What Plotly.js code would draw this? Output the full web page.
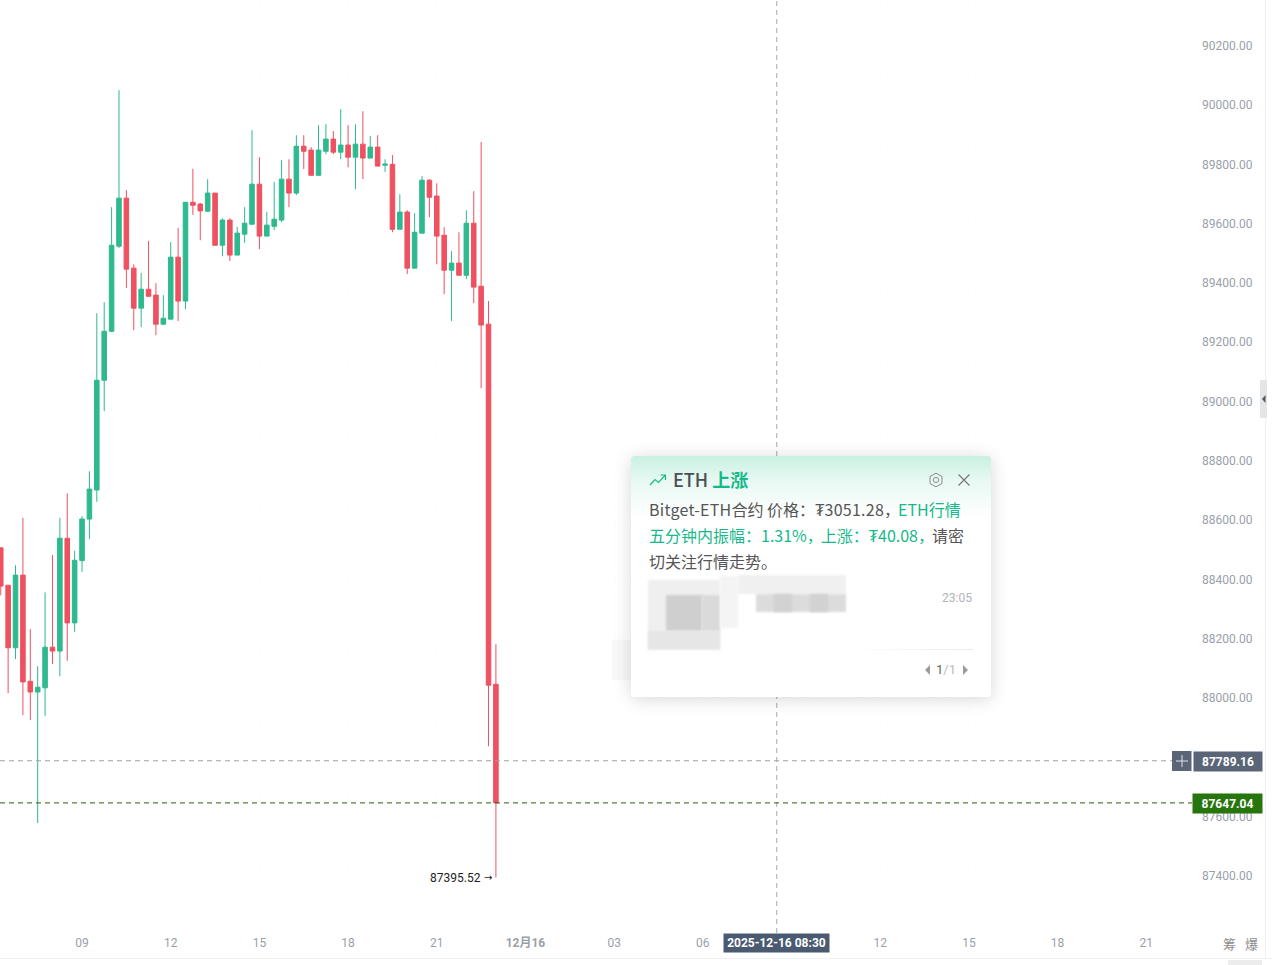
<!DOCTYPE html>
<html><head><meta charset="utf-8">
<script src="https://cdn.plot.ly/plotly-3.0.1.min.js"></script>
<style>
html,body{margin:0;padding:0;background:#fff;width:1272px;height:965px;overflow:hidden}
#chart{position:absolute;left:0;top:0;width:1272px;height:965px}
#pop{position:absolute;left:631px;top:456px;width:360px;height:241px;border-radius:4px;background:linear-gradient(180deg,#c9f1e2 0,#e9f9f3 26px,#fff 62px);box-shadow:0 2px 18px rgba(0,0,0,.16);font-family:"Noto Sans CJK SC","Noto Sans",sans-serif;color:#555;overflow:hidden}
#pop div{position:absolute;white-space:nowrap}
.g{color:#17b98a}
.m{filter:blur(1px)}
.c{margin-right:-2px}
.l{letter-spacing:.25px}
</style></head><body>
<div id="chart"></div>
<div class="m" style="position:absolute;left:612px;top:640px;width:19px;height:40px;background:#f8f8f8"></div>
<div id="pop">
 <svg style="position:absolute;left:18px;top:17px" width="18" height="14" viewBox="0 0 18 14" fill="none" stroke="#17b98a" stroke-width="1.2"><path d="M1 12 L6 6.5 L9.5 9.5 L16 2.5 M11.5 2 H16.5 V7"/></svg>
 <div style="left:42px;top:10px;font-size:18px;line-height:26px;font-weight:500;color:#4a4f57">ETH <span class="g" style="font-weight:700">上涨</span></div>
 <svg style="position:absolute;left:297px;top:16px" width="16" height="16" viewBox="0 0 16 16" fill="none" stroke="#8a8a8a" stroke-width="1"><path d="M8 1.2 L14 4.6 V11.4 L8 14.8 L2 11.4 V4.6 Z"/><circle cx="8" cy="8" r="2.6"/></svg>
 <svg style="position:absolute;left:326px;top:17px" width="14" height="14" viewBox="0 0 14 14" fill="none" stroke="#777" stroke-width="1.2"><path d="M1.5 1.5 L12.5 12.5 M12.5 1.5 L1.5 12.5"/></svg>
 <div style="left:18px;top:40px;font-size:16px;line-height:26px"><span class="l">Bitget-ETH</span>合约 价格：<span class="l">₮3051.28</span><span class="c">，</span><span class="g">ETH行情</span></div>
 <div style="left:18px;top:66px;font-size:16px;line-height:26px"><span class="g">五分钟内振幅：1.31%<span class="c">，</span>上涨：₮40.08<span class="c">，</span></span>请密</div>
 <div style="left:18px;top:92px;font-size:16px;line-height:26px">切关注行情走势。</div>
 <div class="m" style="left:17px;top:124px;width:72px;height:70px;background:#efefef"></div>
 <div class="m" style="left:35px;top:139px;width:36px;height:36px;background:#cfcfcf"></div>
 <div class="m" style="left:71px;top:139px;width:18px;height:36px;background:#dadada"></div>
 <div class="m" style="left:17px;top:175px;width:72px;height:18px;background:#e6e6e6"></div>
 <div class="m" style="left:89px;top:120px;width:18px;height:52px;background:#f4f4f4"></div>
 <div class="m" style="left:107px;top:119px;width:108px;height:19px;background:#f0f0f0"></div>
 <div class="m" style="left:125px;top:138px;width:90px;height:18px;background:#dcdcdc"></div>
 <div class="m" style="left:143px;top:138px;width:18px;height:18px;background:#d2d2d2"></div>
 <div class="m" style="left:179px;top:138px;width:18px;height:18px;background:#d2d2d2"></div>
 <div style="left:311px;top:134px;font-size:12px;line-height:16px;color:#b0b3b8;font-family:Roboto,sans-serif">23:05</div>
 <div style="left:217px;top:193px;width:125px;height:1px;background:linear-gradient(90deg,#fff,#eaeaea)"></div>
 <svg style="position:absolute;left:293px;top:208px" width="8" height="12" viewBox="0 0 8 12"><path d="M6 1 V11 L1 6 Z" fill="#9a9a9a"/></svg>
 <div style="left:305px;top:206px;font-size:13px;line-height:16px;color:#666;font-family:Roboto,sans-serif">1<span style="color:#bbb">/1</span></div>
 <svg style="position:absolute;left:330px;top:208px" width="8" height="12" viewBox="0 0 8 12"><path d="M2 1 V11 L7 6 Z" fill="#9a9a9a"/></svg>
</div>
<script>
const times=['2025-12-15 06:15','2025-12-15 06:30','2025-12-15 06:45','2025-12-15 07:00','2025-12-15 07:15','2025-12-15 07:30','2025-12-15 07:45','2025-12-15 08:00','2025-12-15 08:15','2025-12-15 08:30','2025-12-15 08:45','2025-12-15 09:00','2025-12-15 09:15','2025-12-15 09:30','2025-12-15 09:45','2025-12-15 10:00','2025-12-15 10:15','2025-12-15 10:30','2025-12-15 10:45','2025-12-15 11:00','2025-12-15 11:15','2025-12-15 11:30','2025-12-15 11:45','2025-12-15 12:00','2025-12-15 12:15','2025-12-15 12:30','2025-12-15 12:45','2025-12-15 13:00','2025-12-15 13:15','2025-12-15 13:30','2025-12-15 13:45','2025-12-15 14:00','2025-12-15 14:15','2025-12-15 14:30','2025-12-15 14:45','2025-12-15 15:00','2025-12-15 15:15','2025-12-15 15:30','2025-12-15 15:45','2025-12-15 16:00','2025-12-15 16:15','2025-12-15 16:30','2025-12-15 16:45','2025-12-15 17:00','2025-12-15 17:15','2025-12-15 17:30','2025-12-15 17:45','2025-12-15 18:00','2025-12-15 18:15','2025-12-15 18:30','2025-12-15 18:45','2025-12-15 19:00','2025-12-15 19:15','2025-12-15 19:30','2025-12-15 19:45','2025-12-15 20:00','2025-12-15 20:15','2025-12-15 20:30','2025-12-15 20:45','2025-12-15 21:00','2025-12-15 21:15','2025-12-15 21:30','2025-12-15 21:45','2025-12-15 22:00','2025-12-15 22:15','2025-12-15 22:30','2025-12-15 22:45','2025-12-15 23:00'];
const opens=[88507,88381,88170,88415,88057,88021,88035,88172,88159,88539,88254,88464,88604,88702,89072,89237,89524,89686,89450,89315,89379,89359,89261,89278,89487,89339,89672,89666,89642,89703,89527,89612,89494,89564.5,89598,89733,89558,89591,89612,89750,89703,89861,89848,89763,89844,89885,89841,89865,89824,89868,89821,89858,89797,89800,89581,89639,89450,89568,89746.5,89693,89561,89443,89467,89426,89601.5,89389,89261,88047];
const highs=[88507,88381,88448.5,88608,88233,88108,88357,88483,88608,88691,88497,88614,88765,89298,89335,89655.5,90050,89713,89463,89434,89542,89399,89359,89537.5,89586,89672,89785,89670,89750,89703,89618,89618,89589,89655.5,89915,89824,89640,89741,89814,89817,89898,89898,89858,89932,89935,89912,89986,89932,89935,89979,89895,89898,89817,89831,89699,89645,89635,89760,89750,89736,89588,89507,89571,89645,89709.5,89875,89339,88182];
const lows=[88347,88017,88132,87943,87926,87579,87940,88115,88074,88126,88224,88426,88536,88662,88968,89234,89518,89383,89241,89251,89355,89224,89258,89278,89272,89312,89629.5,89544,89639,89527,89490,89474,89494,89535,89598,89514,89558,89578,89605,89655.5,89696,89784,89763,89763,89834,89834,89817,89790,89716,89750,89821,89794,89774.5,89571,89581,89430,89450,89568,89622,89463,89362,89272,89426,89413,89332,89045,87838,87395.52];
const closes=[88378,88170,88415,88055,88021,88037,88172,88159,88539.5,88254,88465,88604,88705,89072,89237,89527,89686,89446.5,89315,89379,89355,89261,89281,89487,89339,89672,89662,89643,89703,89527,89612,89494,89568,89601.5,89733,89558,89595,89615,89750,89703,89861,89844,89763,89848,89885,89841,89865,89824,89868,89821,89858,89794,89800.5,89581,89639,89450,89571,89746.5,89689,89558,89443,89467,89426,89601.5,89386,89258,88044,87647.04];
const yTicks=[90200,90000,89800,89600,89400,89200,89000,88800,88600,88400,88200,88000,87600,87400];
const xTicks=['2025-12-15 09:00','2025-12-15 12:00','2025-12-15 15:00','2025-12-15 18:00','2025-12-15 21:00','2025-12-16 00:00','2025-12-16 03:00','2025-12-16 06:00','2025-12-16 12:00','2025-12-16 15:00','2025-12-16 18:00','2025-12-16 21:00'];
const xLabels=['09','12','15','18','21','<b>12月16</b>','03','06','12','15','18','21'];
const lastPrice=87647.04, crossPrice=87789.16, lowPrice=87395.52;
const lowTime='2025-12-15 23:00', crossTime='2025-12-16 08:30', crossLabel='2025-12-16 08:30';

const FONT='Roboto,"Noto Sans CJK SC",sans-serif', W=1192, H=925;
const px=v=>v/W, py=v=>(H-v)/H;
const tick='#9aa0a9';
const trace={type:'candlestick',x:times,open:opens,high:highs,low:lows,close:closes,
 increasing:{line:{color:'#2eb98f',width:1},fillcolor:'#2eb98f'},
 decreasing:{line:{color:'#ee5160',width:1},fillcolor:'#ee5160'},
 whiskerwidth:0,hoverinfo:'skip',showlegend:false};
const tag=(x,y,w,h,text,bg,extra)=>Object.assign({xref:'paper',yref:'paper',x:px(x),y:py(y),xanchor:'left',yanchor:'middle',width:w,height:h,showarrow:false,text,bgcolor:bg,align:'center',font:{family:FONT,size:12,color:'#fff'}},extra||{});
const layout={width:1272,height:965,margin:{l:0,r:80,t:0,b:40,pad:0},paper_bgcolor:'#fff',plot_bgcolor:'#fff',showlegend:false,boxgap:0.12,
 dragmode:false,hovermode:false,font:{family:FONT,size:12,color:tick},
 xaxis:{type:'date',range:['2025-12-15 06:13:30','2025-12-16 22:32:48'],rangeslider:{visible:false},tickmode:'array',tickvals:xTicks,ticktext:xLabels,showgrid:true,gridcolor:'#fdfdfd',griddash:'dash',zeroline:false,showline:false,ticks:'',ticklabelstandoff:9,tickfont:{family:FONT,size:12,color:tick},fixedrange:true},
 yaxis:{side:'right',range:[87235.4,90354],tickmode:'array',tickvals:yTicks,tickformat:'.2f',showgrid:true,gridcolor:'#fdfdfd',griddash:'dash',zeroline:false,showline:false,ticks:'',ticklabelstandoff:9,tickfont:{family:FONT,size:12,color:tick},fixedrange:true},
 shapes:[
  {type:'line',layer:'above',xref:'x',yref:'paper',x0:crossTime,x1:crossTime,y0:py(933),y1:1,line:{color:'#a8a8a8',width:1,dash:'5px,4px'}},
  {type:'line',layer:'above',xref:'paper',yref:'y',x0:0,x1:px(1172),y0:crossPrice,y1:crossPrice,line:{color:'#a0a0a0',width:1,dash:'5px,4px'}},
  {type:'line',layer:'above',xref:'paper',yref:'y',x0:0,x1:px(1192),y0:lastPrice,y1:lastPrice,line:{color:'#2f5d10',width:1,dash:'5px,4px'}},
  {type:'line',xref:'paper',yref:'paper',x0:px(1265.5),x1:px(1265.5),y0:py(0),y1:py(958),line:{color:'#f1f1f1',width:1}},
  {type:'line',xref:'paper',yref:'paper',x0:0,x1:px(1272),y0:py(958.5),y1:py(958.5),line:{color:'#f1f1f1',width:1}},
  {type:'rect',xref:'paper',yref:'paper',x0:px(1228),x1:px(1262),y0:py(965),y1:py(960),fillcolor:'#ececec',line:{width:0}},
  {type:'rect',xref:'paper',yref:'paper',x0:px(1260),x1:px(1267),y0:py(418),y1:py(380),fillcolor:'#e4e5e7',line:{width:0}},
  {type:'path',xref:'paper',yref:'paper',path:`M ${px(1265.5)} ${py(395)} L ${px(1262)} ${py(399)} L ${px(1265.5)} ${py(403)} Z`,fillcolor:'#555',line:{width:0}},
  {type:'rect',layer:'above',xref:'paper',yref:'paper',x0:px(1172),x1:px(1191.5),y0:py(771),y1:py(751),fillcolor:'#5a6578',line:{width:0}},
  {type:'line',layer:'above',xref:'paper',yref:'paper',x0:px(1176),x1:px(1188),y0:py(761),y1:py(761),line:{color:'#dfe2e7',width:1}},
  {type:'line',layer:'above',xref:'paper',yref:'paper',x0:px(1182),x1:px(1182),y0:py(767),y1:py(755),line:{color:'#dfe2e7',width:1}}
 ],
 annotations:[
  {xref:'x',yref:'y',x:lowTime,y:lowPrice,xanchor:'right',yanchor:'middle',xshift:-13,showarrow:false,text:'87395.52',font:{family:FONT,size:12,color:'#222'}},
  {xref:'x',yref:'y',x:lowTime,y:lowPrice,xanchor:'right',yanchor:'middle',xshift:-2,showarrow:false,text:'→',font:{family:'"DejaVu Sans"',size:10,color:'#222'}},
  tag(1193,761,66,17,'<b>87789.16</b>','#5a6578'),
  tag(1192,803,67,17,'<b>87647.04</b>','#26750d'),
  {xref:'x',yref:'paper',x:crossTime,y:py(942.5),xanchor:'center',yanchor:'middle',width:103,height:16,showarrow:false,text:'<b>'+crossLabel+'</b>',bgcolor:'#4a5a70',font:{family:FONT,size:12,color:'#fff'}},
  {xref:'paper',yref:'paper',x:px(1229),y:py(944.5),xanchor:'center',yanchor:'middle',showarrow:false,text:'筹',font:{family:FONT,size:13,color:'#8d8d8d'}},
  {xref:'paper',yref:'paper',x:px(1251),y:py(944.5),xanchor:'center',yanchor:'middle',showarrow:false,text:'爆',font:{family:FONT,size:13,color:'#8d8d8d'}}
 ]};
Plotly.newPlot('chart',[trace],layout,{displayModeBar:false,staticPlot:true});
</script></body></html>
